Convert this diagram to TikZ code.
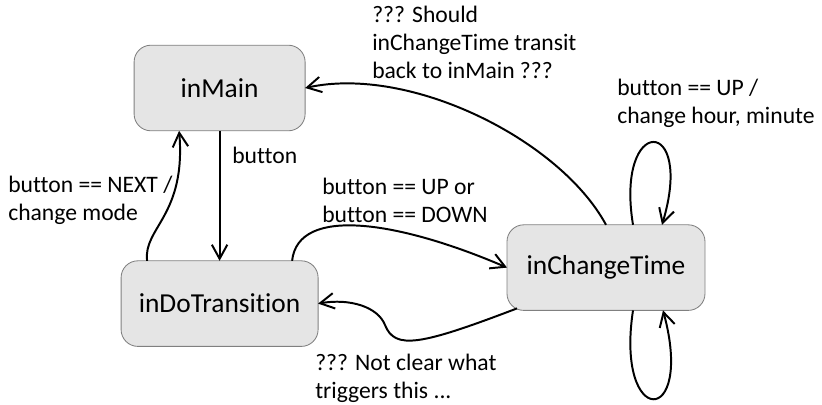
\documentclass[tikz,border=0pt]{standalone}
\usepackage{fontspec}
\setmainfont{Carlito}[Ligatures=NoCommon]
\usepackage{tikz}
\usetikzlibrary{arrows.meta}

\begin{document}
\begin{tikzpicture}[
    statebox/.style={draw=black!50, line width=0.6pt, fill=black!10,
      rounded corners=0.42cm, inner sep=0pt, outer sep=0pt,
      minimum height=2.14cm, font=\fontsize{19.5}{23}\selectfont},
    cond/.style={anchor=base west, align=left, inner sep=0pt,
      font=\fontsize{16.8}{19.9}\selectfont},
    trans/.style={line width=1.4pt, -{Straight Barb[length=10pt,width=11pt]}}]
    \useasboundingbox (0,0) rectangle (20.55,-10.1);

    \node[statebox, minimum width=4.275cm] (main) at (5.49,-2.2) {inMain};
    \node[statebox, minimum width=4.925cm] (dot) at (5.49,-7.59) {inDoTransition};
    \node[statebox, minimum width=4.95cm] (cht) at (15.15,-6.69) {inChangeTime};

    \draw[trans] (main) to (dot);
    \draw[trans] ([xshift=6.5mm]dot.north west)
      .. controls +(-0.1,0.825) and +(0.175,-2.125) .. ([xshift=11.25mm]main.south west);
    \draw[trans] ([xshift=-6.5mm]dot.north east)
      .. controls +(0.15,1.4) and +(-2.675,1.15) .. (cht.west);
    \draw[trans] ([shift={(0.25,0.05)}]cht.south west)
      .. controls +(-2.425,-0.925) and +(0.25,-0.625) .. (9.625,-8.125)
      .. controls +(-0.175,0.45) and +(0.8,0.1375) .. (dot.east);
    \draw[trans] (cht.north)
      .. controls +(-1.15,2.125) and +(2.625,0.575) .. (main.east);
    \draw[trans] ([xshift=6.75mm]cht.north)
      .. controls +(-0.45,2.75) and +(0.825,2.75) .. ([xshift=14mm]cht.north);
    \draw[trans] ([xshift=6.75mm]cht.south)
      .. controls +(-0.45,-2.95) and +(0.8,-2.95) .. ([xshift=14.25mm]cht.south);

    % base west sits on the last line of each label
    \node[cond] (c1) at (5.8,-4.075) {button};
    \node[cond] (c2) at (0.2,-5.5) {button == NEXT /\\change mode};
    \node[cond] (c3) at (8.05,-5.55) {button == UP or\\button == DOWN};
    \node[cond] (c4) at (9.3,-1.95) {??? Should\\inChangeTime transit\\back to inMain ???};
    \node[cond] (c5) at (15.425,-3.075) {button == UP /\\change hour, minute};
    \node[cond] (c6) at (7.875,-9.95) {??? Not clear what\\triggers this ...};
  \end{tikzpicture}
\end{document}
